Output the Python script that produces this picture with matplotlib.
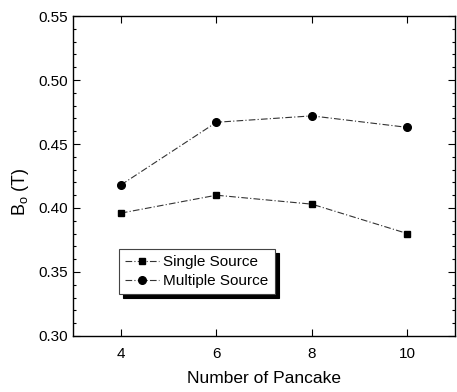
import matplotlib
matplotlib.use('Agg')
import matplotlib.pyplot as plt
from matplotlib.ticker import MultipleLocator

plt.rcParams['font.family'] = ['Liberation Sans', 'DejaVu Sans']
plt.rcParams['mathtext.fontset'] = 'custom'
plt.rcParams['mathtext.rm'] = 'Liberation Sans'

# data
pancakes = [4, 6, 8, 10]
single_source = [0.396, 0.410, 0.403, 0.380]
multiple_source = [0.418, 0.467, 0.472, 0.463]

fig = plt.figure(figsize=(4.57, 3.92), dpi=100)
ax = fig.add_axes([0.16, 0.143, 0.836, 0.816])

ls = (0, (6, 2, 1, 2))
ax.plot(pancakes, single_source, color='#333333', lw=0.8, ls=ls,
        marker='s', ms=5, mfc='black', mec='black', label='Single Source')
ax.plot(pancakes, multiple_source, color='#333333', lw=0.8, ls=ls,
        marker='o', ms=5.5, mfc='black', mec='black', label='Multiple Source')

ax.set_xlim(3, 11)
ax.set_ylim(0.30, 0.55)
ax.set_xticks(pancakes)
ax.xaxis.set_minor_locator(MultipleLocator(1))
ax.yaxis.set_major_locator(MultipleLocator(0.05))
ax.yaxis.set_minor_locator(MultipleLocator(0.01))
ax.yaxis.set_major_formatter(plt.FuncFormatter(lambda v, p: f'{v:.2f}'))

ax.tick_params(which='both', direction='in', top=True, right=True,
               labelsize=11, width=0.8)
ax.tick_params(which='major', length=5)
ax.tick_params(which='minor', length=2.5)
ax.tick_params(axis='x', which='minor', length=0)
ax.tick_params(axis='x', pad=8)
for s in ax.spines.values():
    s.set_linewidth(1.0)

ax.set_xlabel('Number of Pancake', fontsize=12.5, labelpad=7)
ax.set_ylabel(r'B$_\mathrm{o}$ (T)', fontsize=13)
ax.yaxis.set_label_coords(-0.11, 0.45)

leg = ax.legend(loc='lower left', bbox_to_anchor=(0.12, 0.13), fontsize=11,
                frameon=True, fancybox=False,
                shadow={'color': 'black', 'alpha': 1, 'ox': 2.8, 'oy': -2.8},
                handlelength=2.2, handletextpad=0.3, borderpad=0.4,
                labelspacing=0.35, borderaxespad=0)
leg.get_frame().set_edgecolor('#444444')
leg.get_frame().set_linewidth(0.8)

fig.savefig('out.png', dpi=100)
